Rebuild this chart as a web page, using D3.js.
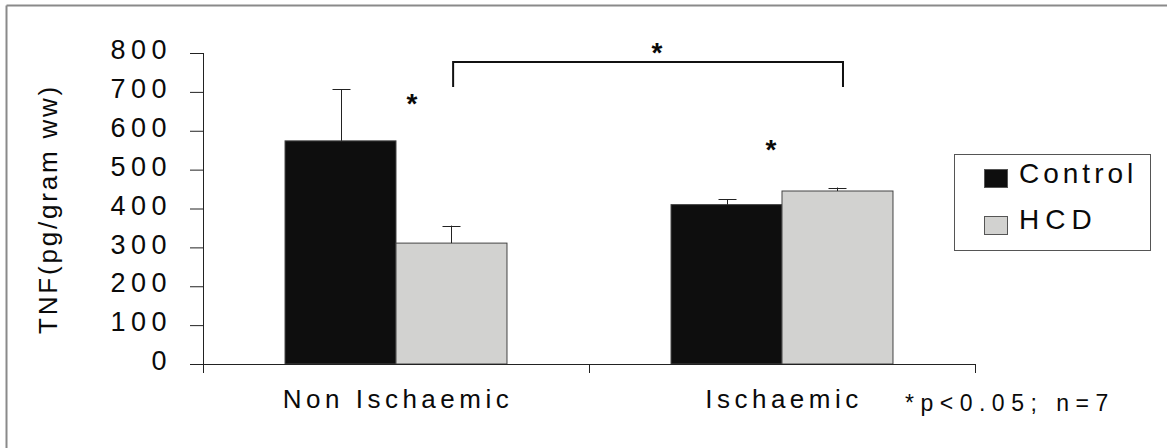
<!DOCTYPE html>
<html>
<head>
<meta charset="utf-8">
<script src="https://cdn.jsdelivr.net/npm/d3@7"></script>
<style>
  html, body { margin: 0; padding: 0; background: #fff; }
  svg { display: block; }
  text { font-family: "Liberation Sans", Arial, sans-serif; fill: #0a0a0a; }
</style>
</head>
<body>
<svg id="chart" width="1167" height="448"></svg>
<script>
// ---- data ----
const categories = ["Non Ischaemic", "Ischaemic"];
const seriesNames = ["Control", "HCD"];
const controlValues = [574, 410];
const hcdValues = [311, 445];
const controlErrors = [133, 14];
const hcdErrors = [45, 9];
const yTicks = [0, 100, 200, 300, 400, 500, 600, 700, 800];
const yTitle = "TNF(pg/gram ww)";
const footnote = "*p<0.05; n=7";
const colors = { Control: "#0e0e0e", HCD: "#d2d2d0" };

const rows = categories.map((c, i) => ({
  cat: c,
  vals: [
    { s: "Control", v: controlValues[i], e: controlErrors[i] },
    { s: "HCD", v: hcdValues[i], e: hcdErrors[i] }
  ]
}));

const svg = d3.select("#chart");

// frame (cropped border)
svg.append("line").attr("x1", 6.5).attr("x2", 1167).attr("y1", 5.5).attr("y2", 5.5)
  .attr("stroke", "#8a8a8a").attr("stroke-width", 2);
svg.append("line").attr("x1", 6.5).attr("x2", 6.5).attr("y1", 5.5).attr("y2", 448)
  .attr("stroke", "#8a8a8a").attr("stroke-width", 2);

// scales
const x0 = d3.scaleBand().domain(categories).range([203, 975]).paddingInner(0).paddingOuter(0);
const x1 = d3.scaleBand().domain(seriesNames).range([0, x0.bandwidth()]).paddingInner(0).paddingOuter(0.739);
const y = d3.scaleLinear().domain([0, 800]).range([364, 53]);

// bars
const g = svg.append("g");
const groups = g.selectAll("g.cat").data(rows).join("g")
  .attr("transform", d => `translate(${x0(d.cat)},0)`);

groups.selectAll("rect").data(d => d.vals).join("rect")
  .attr("x", d => x1(d.s))
  .attr("y", d => y(d.v))
  .attr("width", x1.bandwidth())
  .attr("height", d => y(0) - y(d.v))
  .attr("fill", d => colors[d.s])
  .attr("stroke", "#444")
  .attr("stroke-width", 1);

// error bars (upper only)
groups.selectAll("g.err").data(d => d.vals).join("g").attr("class", "err")
  .each(function(d) {
    const cx = Math.round(x1(d.s) + x1.bandwidth() / 2) + 0.5;
    const sel = d3.select(this);
    sel.append("line").attr("x1", cx).attr("x2", cx)
      .attr("y1", y(d.v)).attr("y2", y(d.v + d.e))
      .attr("stroke", "#222").attr("stroke-width", 1);
    sel.append("line").attr("x1", cx - 9).attr("x2", cx + 9)
      .attr("y1", Math.round(y(d.v + d.e)) + 0.5).attr("y2", Math.round(y(d.v + d.e)) + 0.5)
      .attr("stroke", "#222").attr("stroke-width", 1);
  });

// y axis
const yAxis = svg.append("g").attr("transform", "translate(203,0)")
  .call(d3.axisLeft(y).tickValues(yTicks).tickSize(13).tickPadding(18).tickSizeOuter(0));
yAxis.select(".domain").remove();
yAxis.append("line").attr("x1", 0.5).attr("x2", 0.5).attr("y1", y(800)).attr("y2", 373)
  .attr("stroke", "#222");
yAxis.selectAll(".tick line").attr("stroke", "#222");
yAxis.selectAll(".tick text")
  .attr("dy", "0.32em").attr("y", -3)
  .style("font-size", "27px").style("letter-spacing", "5.5px")
  .attr("fill", "#0a0a0a");

// x axis
const xAxis = svg.append("g").attr("transform", `translate(0,${y(0)})`);
xAxis.append("line").attr("x1", 190).attr("x2", 975).attr("y1", 0.5).attr("y2", 0.5).attr("stroke", "#222");
const bounds = [categories.map(c => x0(c)), [x0(categories[categories.length - 1]) + x0.bandwidth()]].flat();
xAxis.selectAll("line.xt").data(bounds.slice(1)).join("line").attr("class", "xt")
  .attr("x1", d => Math.round(d) + 0.5).attr("x2", d => Math.round(d) + 0.5)
  .attr("y1", 0).attr("y2", 9).attr("stroke", "#222");
xAxis.selectAll("text.xl").data(categories).join("text").attr("class", "xl")
  .attr("x", d => x0(d) + x0.bandwidth() / 2 + 2)
  .attr("y", 44)
  .attr("text-anchor", "middle")
  .style("font-size", "26px").style("letter-spacing", "4.5px")
  .text(d => d);

// y title
svg.append("text")
  .attr("transform", "translate(57,209) rotate(-90)")
  .attr("text-anchor", "middle")
  .style("font-size", "26px").style("letter-spacing", "2.8px")
  .text(yTitle);

// footnote
svg.append("text").attr("x", 905).attr("y", 411)
  .style("font-size", "23px").style("letter-spacing", "6.5px")
  .text(footnote);

// significance bracket
svg.append("path")
  .attr("d", `M${x0(categories[0]) + x0.bandwidth() * 0.648},87 V62 H${x0(categories[1]) + x0.bandwidth() * 0.658} V87`)
  .attr("fill", "none").attr("stroke", "#111").attr("stroke-width", 2);

// stars
const stars = [[657, 46], [412, 97], [771, 143]];
svg.selectAll("text.star").data(stars).join("text").attr("class", "star")
  .attr("x", d => d[0]).attr("y", d => d[1] + 16)
  .attr("text-anchor", "middle")
  .style("font-size", "28px").style("font-weight", "bold")
  .text("*");

// legend
const leg = svg.append("g");
leg.append("rect").attr("x", 954.5).attr("y", 154.5).attr("width", 196).attr("height", 96)
  .attr("fill", "#fff").attr("stroke", "#555").attr("stroke-width", 1);
seriesNames.forEach((s, i) => {
  const yy = 169 + i * 47;
  leg.append("rect").attr("x", 984.5).attr("y", yy + 0.5).attr("width", 23).attr("height", 18)
    .attr("fill", colors[s]).attr("stroke", "#555");
  leg.append("text").attr("x", 1019).attr("y", 183 + i * 46)
    .style("font-size", "28px").style("letter-spacing", i === 0 ? "4px" : "6px")
    .text(s);
});
</script>
</body>
</html>
